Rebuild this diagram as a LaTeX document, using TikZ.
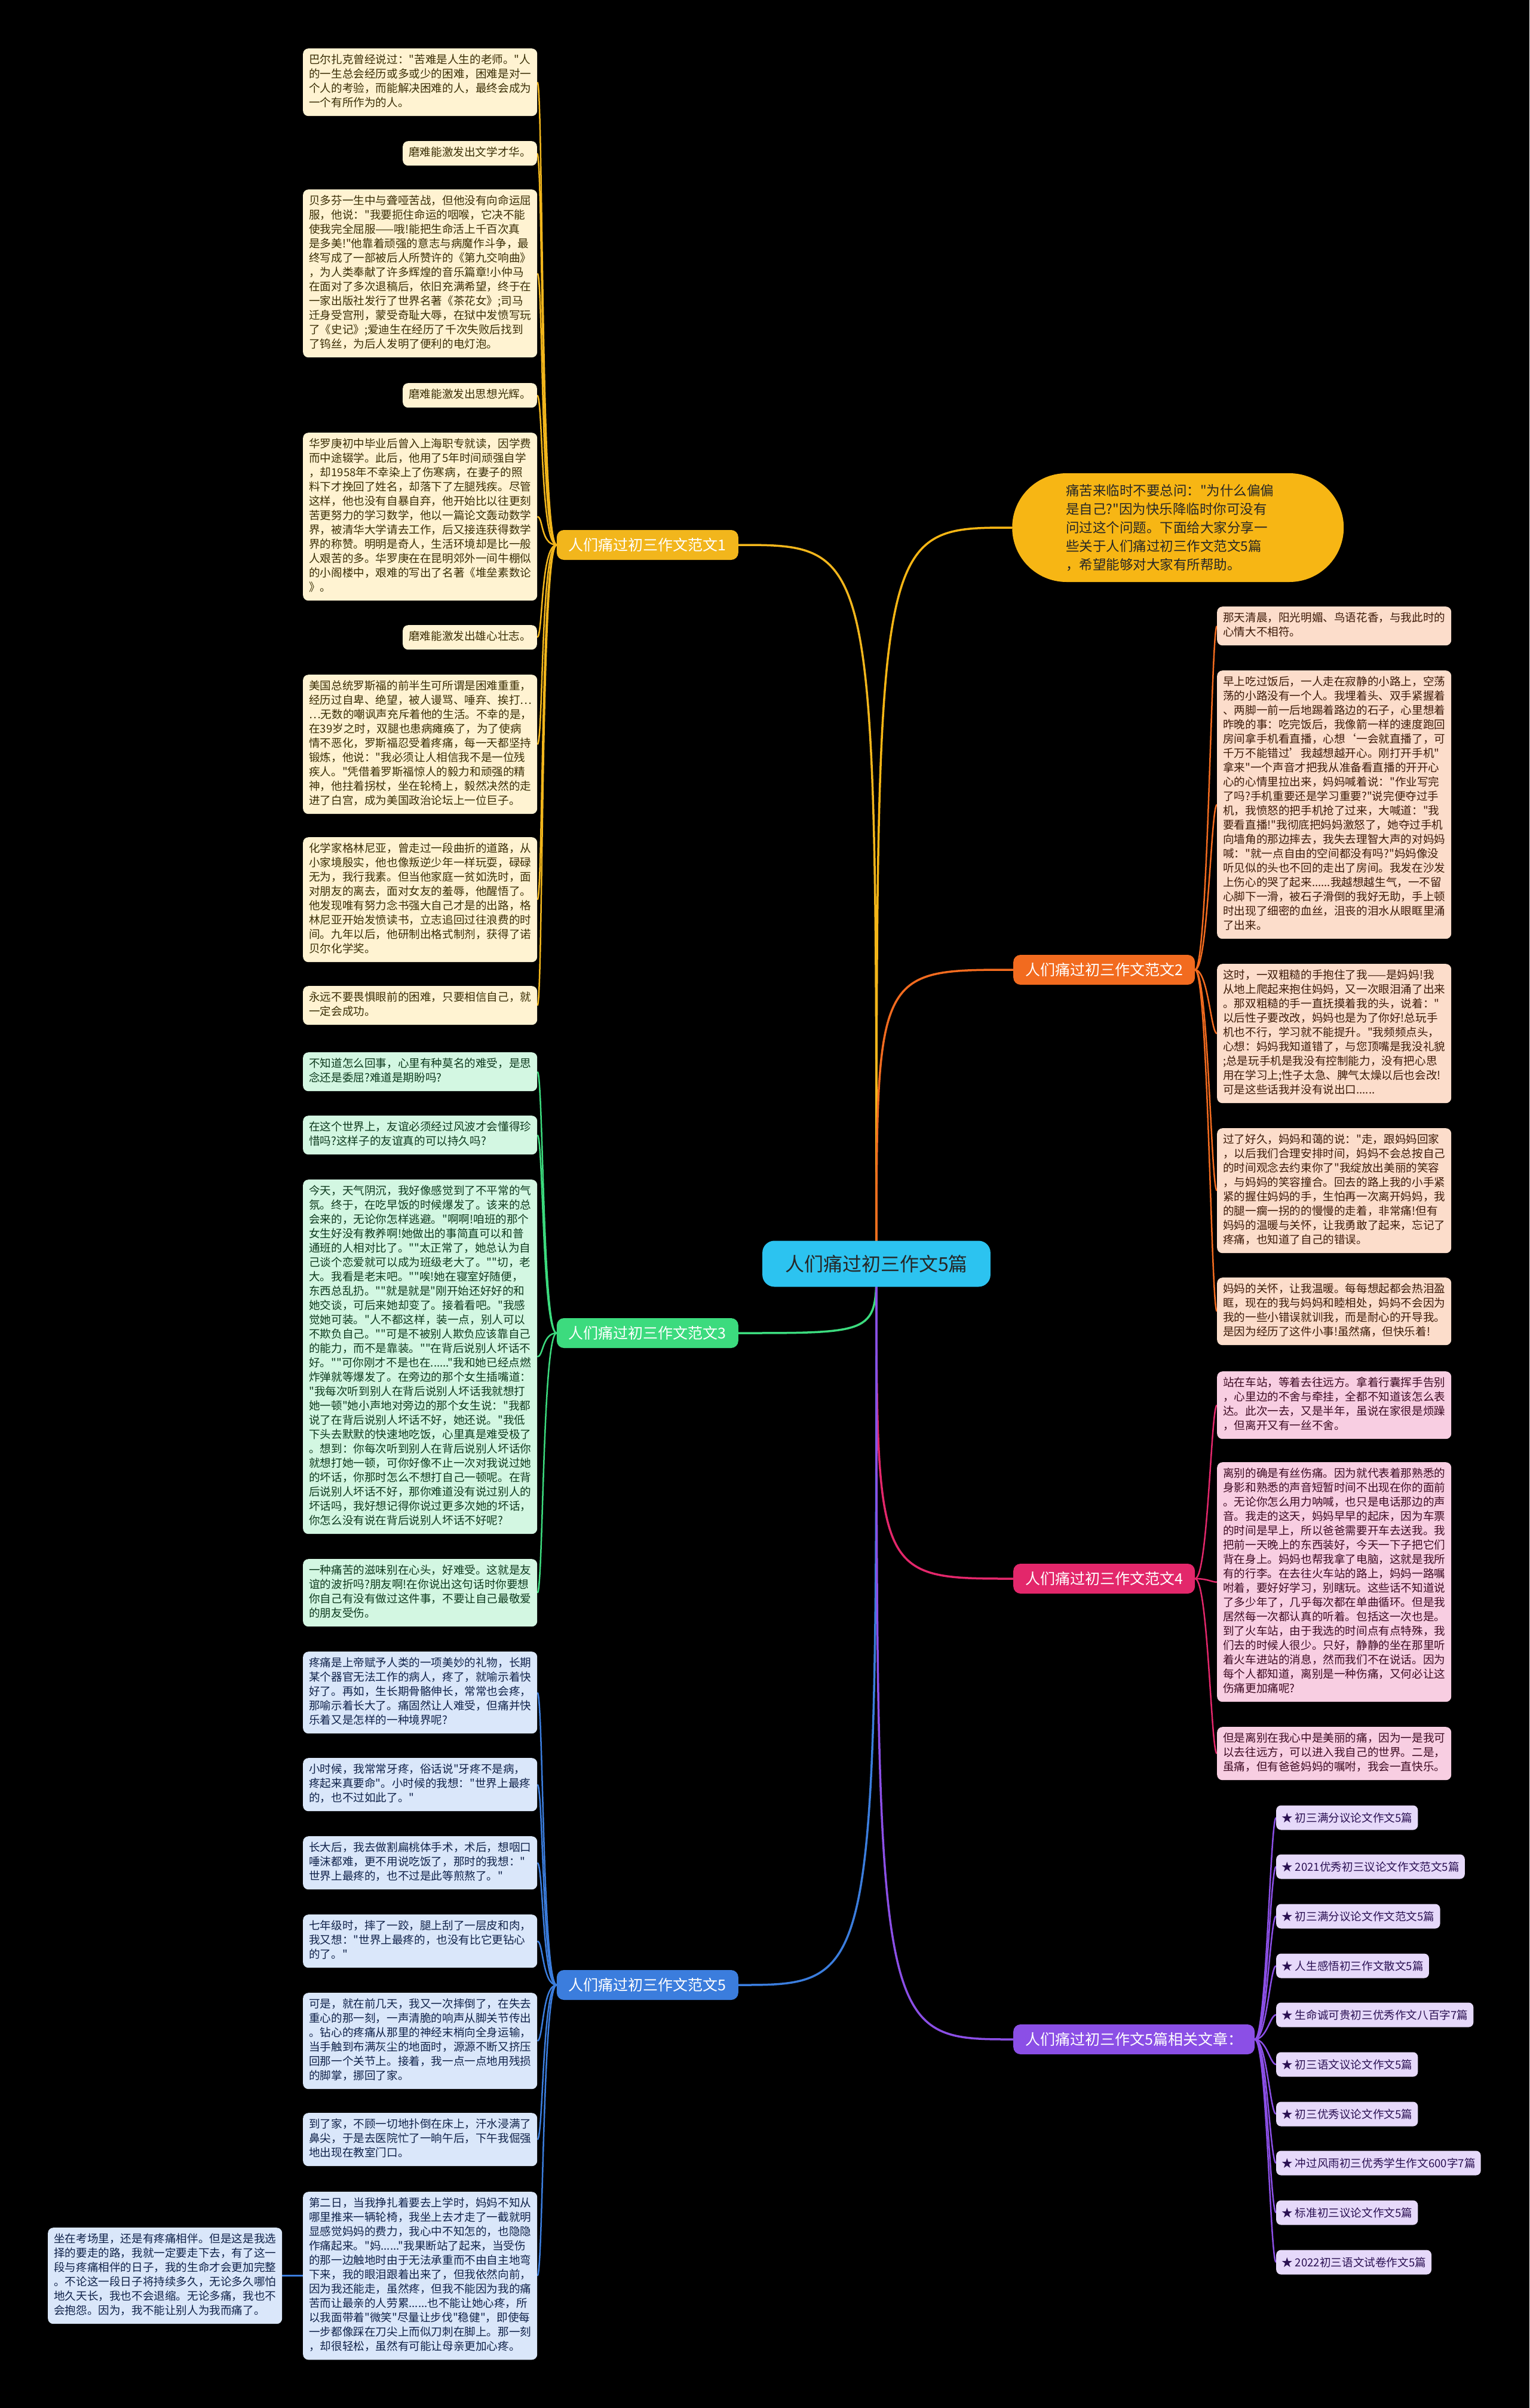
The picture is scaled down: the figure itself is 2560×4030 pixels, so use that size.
\documentclass[tikz,border=0pt]{standalone}
\usepackage{fontspec}
\newfontfamily\cjk{Noto Sans CJK SC}
\usetikzlibrary{calc}
\definecolor{yfill}{HTML}{FFF3D2}\definecolor{ytext}{HTML}{3A2E05}
\definecolor{gfill}{HTML}{D3F7E2}\definecolor{gtext}{HTML}{0E3A1E}
\definecolor{bfill}{HTML}{DAE7FA}\definecolor{btext}{HTML}{10224A}
\definecolor{ofill}{HTML}{FCDDCB}\definecolor{otext}{HTML}{3D1A08}
\definecolor{kfill}{HTML}{F8CEE2}\definecolor{ktext}{HTML}{3D0A22}
\definecolor{pfill}{HTML}{E6D9FA}\definecolor{ptext}{HTML}{2A1052}
\definecolor{linY}{HTML}{F2B61C}\definecolor{linO}{HTML}{F26B1F}
\definecolor{linG}{HTML}{3CDB7E}\definecolor{linK}{HTML}{E3276B}
\definecolor{linB}{HTML}{3B7DDD}\definecolor{linP}{HTML}{8B4FE6}
\definecolor{cyanc}{HTML}{2CC3F0}\definecolor{introc}{HTML}{F7B614}
\pgfdeclarelayer{bg}
\pgfsetlayers{bg,main}
\begin{document}
\begin{tikzpicture}[x=1pt,y=-1pt,
  leaf/.style={rectangle, rounded corners=9pt, inner xsep=10pt, inner ysep=8.5pt, align=left,
    font=\cjk\fontsize{18.6pt}{24pt}\selectfont, execute at begin node=\strut, execute at end node=\strut},
  wide/.style={leaf, text width=372pt, anchor=north west},
  short/.style={leaf, anchor=north east},
  ga/.style={fill=yfill, text=ytext},
  gg/.style={fill=gfill, text=gtext},
  gb/.style={fill=bfill, text=btext},
  go/.style={fill=ofill, text=otext},
  gk/.style={fill=kfill, text=ktext},
  listitem/.style={rectangle, rounded corners=8pt, fill=pfill, text=ptext, inner xsep=9pt,
    minimum height=41pt, anchor=west, font=\cjk\fontsize{18.6pt}{24pt}\selectfont},
  branch/.style={rectangle, rounded corners=12pt, minimum height=50pt, inner xsep=20pt,
    text=white, font=\cjk\fontsize{25pt}{30pt}\selectfont},
  ll/.style={line width=2.5pt},
  cl/.style={line width=3.5pt}
]
\useasboundingbox (0,0) rectangle (2560,4030);

% centre and intro
\node[rectangle, rounded corners=20pt, fill=cyanc, text=black!85, minimum height=77pt, inner xsep=38pt,
  font=\cjk\fontsize{32pt}{38pt}\selectfont] (c) at (1467,2115) {人们痛过初三作文5篇};
\node[rectangle, rounded corners=91pt, fill=introc, text=black!85, minimum height=182pt, inner xsep=90pt,
  text width=375pt, align=left, anchor=west, font=\cjk\fontsize{22.5pt}{31pt}\selectfont] (intro) at (1694,883)
  {痛苦来临时不要总问："为什么偏偏\\是自己?"因为快乐降临时你可没有\\问过这个问题。下面给大家分享一\\些关于人们痛过初三作文范文5篇\\，希望能够对大家有所帮助。};

% branches
\node[branch, fill=linY, anchor=east] (br1) at (1236,912) {人们痛过初三作文范文1};
\node[branch, fill=linO, anchor=west] (br2) at (1696,1623) {人们痛过初三作文范文2};
\node[branch, fill=linG, anchor=east] (br3) at (1236,2231) {人们痛过初三作文范文3};
\node[branch, fill=linK, anchor=west] (br4) at (1696,2642) {人们痛过初三作文范文4};
\node[branch, fill=linB, anchor=east] (br5) at (1236,3322) {人们痛过初三作文范文5};
\node[branch, fill=linP, anchor=west] (br6) at (1696,3413) {人们痛过初三作文5篇相关文章：};

% group 1
\node[wide, ga] (ya1) at (507,81) {巴尔扎克曾经说过："苦难是人生的老师。"人\\的一生总会经历或多或少的困难，困难是对一\\个人的考验，而能解决困难的人，最终会成为\\一个有所作为的人。};
\node[short, ga] (ya2) at (899,236) {磨难能激发出文学才华。};
\node[wide, ga] (ya3) at (507,317) {贝多芬一生中与聋哑苦战，但他没有向命运屈\\服，他说："我要扼住命运的咽喉，它决不能\\使我完全屈服——哦!能把生命活上千百次真\\是多美!"他靠着顽强的意志与病魔作斗争，最\\终写成了一部被后人所赞许的《第九交响曲》\\，为人类奉献了许多辉煌的音乐篇章!小仲马\\在面对了多次退稿后，依旧充满希望，终于在\\一家出版社发行了世界名著《茶花女》;司马\\迁身受宫刑，蒙受奇耻大辱，在狱中发愤写玩\\了《史记》;爱迪生在经历了千次失败后找到\\了钨丝，为后人发明了便利的电灯泡。};
\node[short, ga] (ya4) at (899,641) {磨难能激发出思想光辉。};
\node[wide, ga] (ya5) at (507,724) {华罗庚初中毕业后曾入上海职专就读，因学费\\而中途辍学。此后，他用了5年时间顽强自学\\，却1958年不幸染上了伤寒病，在妻子的照\\料下才挽回了姓名，却落下了左腿残疾。尽管\\这样，他也没有自暴自弃，他开始比以往更刻\\苦更努力的学习数学，他以一篇论文轰动数学\\界，被清华大学请去工作，后又接连获得数学\\界的称赞。明明是奇人，生活环境却是比一般\\人艰苦的多。华罗庚在在昆明郊外一间牛棚似\\的小阁楼中，艰难的写出了名著《堆垒素数论\\》。};
\node[short, ga] (ya6) at (899,1046) {磨难能激发出雄心壮志。};
\node[wide, ga] (ya7) at (507,1129) {美国总统罗斯福的前半生可所谓是困难重重，\\经历过自卑、绝望，被人谩骂、唾弃、挨打…\\…无数的嘲讽声充斥着他的生活。不幸的是，\\在39岁之时，双腿也患病瘫痪了，为了使病\\情不恶化，罗斯福忍受着疼痛，每一天都坚持\\锻炼，他说："我必须让人相信我不是一位残\\疾人。"凭借着罗斯福惊人的毅力和顽强的精\\神，他拄着拐杖，坐在轮椅上，毅然决然的走\\进了白宫，成为美国政治论坛上一位巨子。};
\node[wide, ga] (ya8) at (507,1401) {化学家格林尼亚，曾走过一段曲折的道路，从\\小家境殷实，他也像叛逆少年一样玩耍，碌碌\\无为，我行我素。但当他家庭一贫如洗时，面\\对朋友的离去，面对女友的羞辱，他醒悟了。\\他发现唯有努力念书强大自己才是的出路，格\\林尼亚开始发愤读书，立志追回过往浪费的时\\间。九年以后，他研制出格式制剂，获得了诺\\贝尔化学奖。};
\node[wide, ga] (ya9) at (507,1650) {永远不要畏惧眼前的困难，只要相信自己，就\\一定会成功。};

% group 3
\node[wide, gg] (gg1) at (507,1761) {不知道怎么回事，心里有种莫名的难受，是思\\念还是委屈?难道是期盼吗?};
\node[wide, gg] (gg2) at (507,1867) {在这个世界上，友谊必须经过风波才会懂得珍\\惜吗?这样子的友谊真的可以持久吗?};
\node[wide, gg] (gg3) at (507,1974) {今天，天气阴沉，我好像感觉到了不平常的气\\氛。终于，在吃早饭的时候爆发了。该来的总\\会来的，无论你怎样逃避。"啊啊!咱班的那个\\女生好没有教养啊!她做出的事简直可以和普\\通班的人相对比了。""太正常了，她总认为自\\己谈个恋爱就可以成为班级老大了。""切，老\\大。我看是老末吧。""唉!她在寝室好随便，\\东西总乱扔。""就是就是"刚开始还好好的和\\她交谈，可后来她却变了。接着看吧。"我感\\觉她可装。"人不都这样，装一点，别人可以\\不欺负自己。""可是不被别人欺负应该靠自己\\的能力，而不是靠装。""在背后说别人坏话不\\好。""可你刚才不是也在......"我和她已经点燃\\炸弹就等爆发了。在旁边的那个女生插嘴道：\\"我每次听到别人在背后说别人坏话我就想打\\她一顿"她小声地对旁边的那个女生说："我都\\说了在背后说别人坏话不好，她还说。"我低\\下头去默默的快速地吃饭，心里真是难受极了\\。想到：你每次听到别人在背后说别人坏话你\\就想打她一顿，可你好像不止一次对我说过她\\的坏话，你那时怎么不想打自己一顿呢。在背\\后说别人坏话不好，那你难道没有说过别人的\\坏话吗，我好想记得你说过更多次她的坏话，\\你怎么没有说在背后说别人坏话不好呢?};
\node[wide, gg] (gg4) at (507,2609) {一种痛苦的滋味别在心头，好难受。这就是友\\谊的波折吗?朋友啊!在你说出这句话时你要想\\你自己有没有做过这件事，不要让自己最敬爱\\的朋友受伤。};

% group 5
\node[wide, gb] (bc1) at (507,2764) {疼痛是上帝赋予人类的一项美妙的礼物，长期\\某个器官无法工作的病人，疼了，就喻示着快\\好了。再如，生长期骨骼伸长，常常也会疼，\\那喻示着长大了。痛固然让人难受，但痛并快\\乐着又是怎样的一种境界呢?};
\node[wide, gb] (bc2) at (507,2942) {小时候，我常常牙疼，俗话说"牙疼不是病，\\疼起来真要命"。小时候的我想："世界上最疼\\的，也不过如此了。"};
\node[wide, gb] (bc3) at (507,3073) {长大后，我去做割扁桃体手术，术后，想咽口\\唾沫都难，更不用说吃饭了，那时的我想："\\世界上最疼的，也不过是此等煎熬了。"};
\node[wide, gb] (bc4) at (507,3204) {七年级时，摔了一跤，腿上刮了一层皮和肉，\\我又想："世界上最疼的，也没有比它更钻心\\的了。"};
\node[wide, gb] (bc5) at (507,3335) {可是，就在前几天，我又一次摔倒了，在失去\\重心的那一刻，一声清脆的响声从脚关节传出\\。钻心的疼痛从那里的神经末梢向全身运输，\\当手触到布满灰尘的地面时，源源不断又挤压\\回那一个关节上。接着，我一点一点地用残损\\的脚掌，挪回了家。};
\node[wide, gb] (bc6) at (507,3536) {到了家，不顾一切地扑倒在床上，汗水浸满了\\鼻尖，于是去医院忙了一晌午后，下午我倔强\\地出现在教室门口。};
\node[wide, gb] (bc7) at (507,3668) {第二日，当我挣扎着要去上学时，妈妈不知从\\哪里推来一辆轮椅，我坐上去才走了一截就明\\显感觉妈妈的费力，我心中不知怎的，也隐隐\\作痛起来。"妈......"我果断站了起来，当受伤\\的那一边触地时由于无法承重而不由自主地弯\\下来，我的眼泪跟着出来了，但我依然向前，\\因为我还能走，虽然疼，但我不能因为我的痛\\苦而让最亲的人劳累......也不能让她心疼，所\\以我面带着"微笑"尽量让步伐"稳健"，即使每\\一步都像踩在刀尖上而似刀刺在脚上。那一刻\\，却很轻松，虽然有可能让母亲更加心疼。};
\node[wide, gb] (bc8) at (80,3728) {坐在考场里，还是有疼痛相伴。但是这是我选\\择的要走的路，我就一定要走下去，有了这一\\段与疼痛相伴的日子，我的生命才会更加完整\\。不论这一段日子将持续多久，无论多久哪怕\\地久天长，我也不会退缩。无论多痛，我也不\\会抱怨。因为，我不能让别人为我而痛了。};

% group 2
\node[wide, go] (od1) at (2037,1015) {那天清晨，阳光明媚、鸟语花香，与我此时的\\心情大不相符。};
\node[wide, go] (od2) at (2037,1122) {早上吃过饭后，一人走在寂静的小路上，空荡\\荡的小路没有一个人。我埋着头、双手紧握着\\、两脚一前一后地踢着路边的石子，心里想着\\昨晚的事：吃完饭后，我像箭一样的速度跑回\\房间拿手机看直播，心想‘一会就直播了，可\\千万不能错过’我越想越开心。刚打开手机"\\拿来"一个声音才把我从准备看直播的开开心\\心的心情里拉出来，妈妈喊着说："作业写完\\了吗?手机重要还是学习重要?"说完便夺过手\\机，我愤怒的把手机抢了过来，大喊道："我\\要看直播!"我彻底把妈妈激怒了，她夺过手机\\向墙角的那边摔去，我失去理智大声的对妈妈\\喊："就一点自由的空间都没有吗?"妈妈像没\\听见似的头也不回的走出了房间。我发在沙发\\上伤心的哭了起来......我越想越生气，一不留\\心脚下一滑，被石子滑倒的我好无助，手上顿\\时出现了细密的血丝，沮丧的泪水从眼眶里涌\\了出来。};
\node[wide, go] (od3) at (2037,1613) {这时，一双粗糙的手抱住了我——是妈妈!我\\从地上爬起来抱住妈妈，又一次眼泪涌了出来\\。那双粗糙的手一直抚摸着我的头，说着："\\以后性子要改改，妈妈也是为了你好!总玩手\\机也不行，学习就不能提升。"我频频点头，\\心想：妈妈我知道错了，与您顶嘴是我没礼貌\\;总是玩手机是我没有控制能力，没有把心思\\用在学习上;性子太急、脾气太燥以后也会改!\\可是这些话我并没有说出口......};
\node[wide, go] (od4) at (2037,1888) {过了好久，妈妈和蔼的说："走，跟妈妈回家\\，以后我们合理安排时间，妈妈不会总按自己\\的时间观念去约束你了"我绽放出美丽的笑容\\，与妈妈的笑容撞合。回去的路上我的小手紧\\紧的握住妈妈的手，生怕再一次离开妈妈，我\\的腿一瘸一拐的的慢慢的走着，非常痛!但有\\妈妈的温暖与关怀，让我勇敢了起来，忘记了\\疼痛，也知道了自己的错误。};
\node[wide, go] (od5) at (2037,2138) {妈妈的关怀，让我温暖。每每想起都会热泪盈\\眶，现在的我与妈妈和睦相处，妈妈不会因为\\我的一些小错误就训我，而是耐心的开导我。\\是因为经历了这件小事!虽然痛，但快乐着!};

% group 4
\node[wide, gk] (pk1) at (2037,2295) {站在车站，等着去往远方。拿着行囊挥手告别\\，心里边的不舍与牵挂，全都不知道该怎么表\\达。此次一去，又是半年，虽说在家很是烦躁\\，但离开又有一丝不舍。};
\node[wide, gk] (pk2) at (2037,2447) {离别的确是有丝伤痛。因为就代表着那熟悉的\\身影和熟悉的声音短暂时间不出现在你的面前\\。无论你怎么用力呐喊，也只是电话那边的声\\音。我走的这天，妈妈早早的起床，因为车票\\的时间是早上，所以爸爸需要开车去送我。我\\把前一天晚上的东西装好，今天一下子把它们\\背在身上。妈妈也帮我拿了电脑，这就是我所\\有的行李。在去往火车站的路上，妈妈一路嘱\\咐着，要好好学习，别瞎玩。这些话不知道说\\了多少年了，几乎每次都在单曲循环。但是我\\居然每一次都认真的听着。包括这一次也是。\\到了火车站，由于我选的时间点有点特殊，我\\们去的时候人很少。只好，静静的坐在那里听\\着火车进站的消息，然而我们不在说话。因为\\每个人都知道，离别是一种伤痛，又何必让这\\伤痛更加痛呢?};
\node[wide, gk] (pk3) at (2037,2890) {但是离别在我心中是美丽的痛，因为一是我可\\以去往远方，可以进入我自己的世界。二是，\\虽痛，但有爸爸妈妈的嘱咐，我会一直快乐。};

% group 6
\node[listitem] (pu1) at (2136,3042) {★ 初三满分议论文作文5篇};
\node[listitem] (pu2) at (2136,3124) {★ 2021优秀初三议论文作文范文5篇};
\node[listitem] (pu3) at (2136,3207) {★ 初三满分议论文作文范文5篇};
\node[listitem] (pu4) at (2136,3290) {★ 人生感悟初三作文散文5篇};
\node[listitem] (pu5) at (2136,3372) {★ 生命诚可贵初三优秀作文八百字7篇};
\node[listitem] (pu6) at (2136,3455) {★ 初三语文议论文作文5篇};
\node[listitem] (pu7) at (2136,3538) {★ 初三优秀议论文作文5篇};
\node[listitem] (pu8) at (2136,3620) {★ 冲过风雨初三优秀学生作文600字7篇};
\node[listitem] (pu9) at (2136,3703) {★ 标准初三议论文作文5篇};
\node[listitem] (pu10) at (2136,3786) {★ 2022初三语文试卷作文5篇};

\begin{pgfonlayer}{bg}
\fill[black] (0,0) rectangle (2560,4030);
% centre connectors
\draw[cl, introc] (c.center) .. controls (c.center |- intro.west) .. (intro.west);
\draw[cl, linY] (c.center) .. controls (c.center |- br1.east) .. (br1.east);
\draw[cl, linO] (c.center) .. controls (c.center |- br2.west) .. (br2.west);
\draw[cl, linG] (c.center) .. controls (c.center |- br3.east) .. (br3.east);
\draw[cl, linK] (c.center) .. controls (c.center |- br4.west) .. (br4.west);
\draw[cl, linB] (c.center) .. controls (c.center |- br5.east) .. (br5.east);
\draw[cl, linP] (c.center) .. controls (c.center |- br6.west) .. (br6.west);
% left leaves
\foreach \n in {ya1,ya2,ya3,ya4,ya5,ya6,ya7,ya8,ya9}
  \draw[ll, linY] (br1.west) .. controls ($(br1.west)+(-27,0)$) and ($(\n.east)+(10,0)$) .. (\n.east);
\foreach \n in {gg1,gg2,gg3,gg4}
  \draw[ll, linG] (br3.west) .. controls ($(br3.west)+(-24,0)$) and ($(\n.east)+(10,0)$) .. (\n.east);
\foreach \n in {bc1,bc2,bc3,bc4,bc5,bc6,bc7}
  \draw[ll, linB] (br5.west) .. controls ($(br5.west)+(-24,0)$) and ($(\n.east)+(10,0)$) .. (\n.east);
\draw[ll, linB] (bc7.west) -- (bc7.west -| bc8.east);
% right leaves
\foreach \n in {od1,od2,od3,od4,od5}
  \draw[ll, linO] (br2.east) .. controls ($(br2.east)+(22,0)$) and ($(\n.west)+(-10,0)$) .. (\n.west);
\foreach \n in {pk1,pk2,pk3}
  \draw[ll, linK] (br4.east) .. controls ($(br4.east)+(22,0)$) and ($(\n.west)+(-10,0)$) .. (\n.west);
\foreach \n in {pu1,pu2,pu3,pu4,pu5,pu6,pu7,pu8,pu9,pu10}
  \draw[ll, linP] (br6.east) .. controls ($(br6.east)+(20,0)$) and ($(\n.west)+(-10,0)$) .. (\n.west);
\end{pgfonlayer}
\end{tikzpicture}
\end{document}
